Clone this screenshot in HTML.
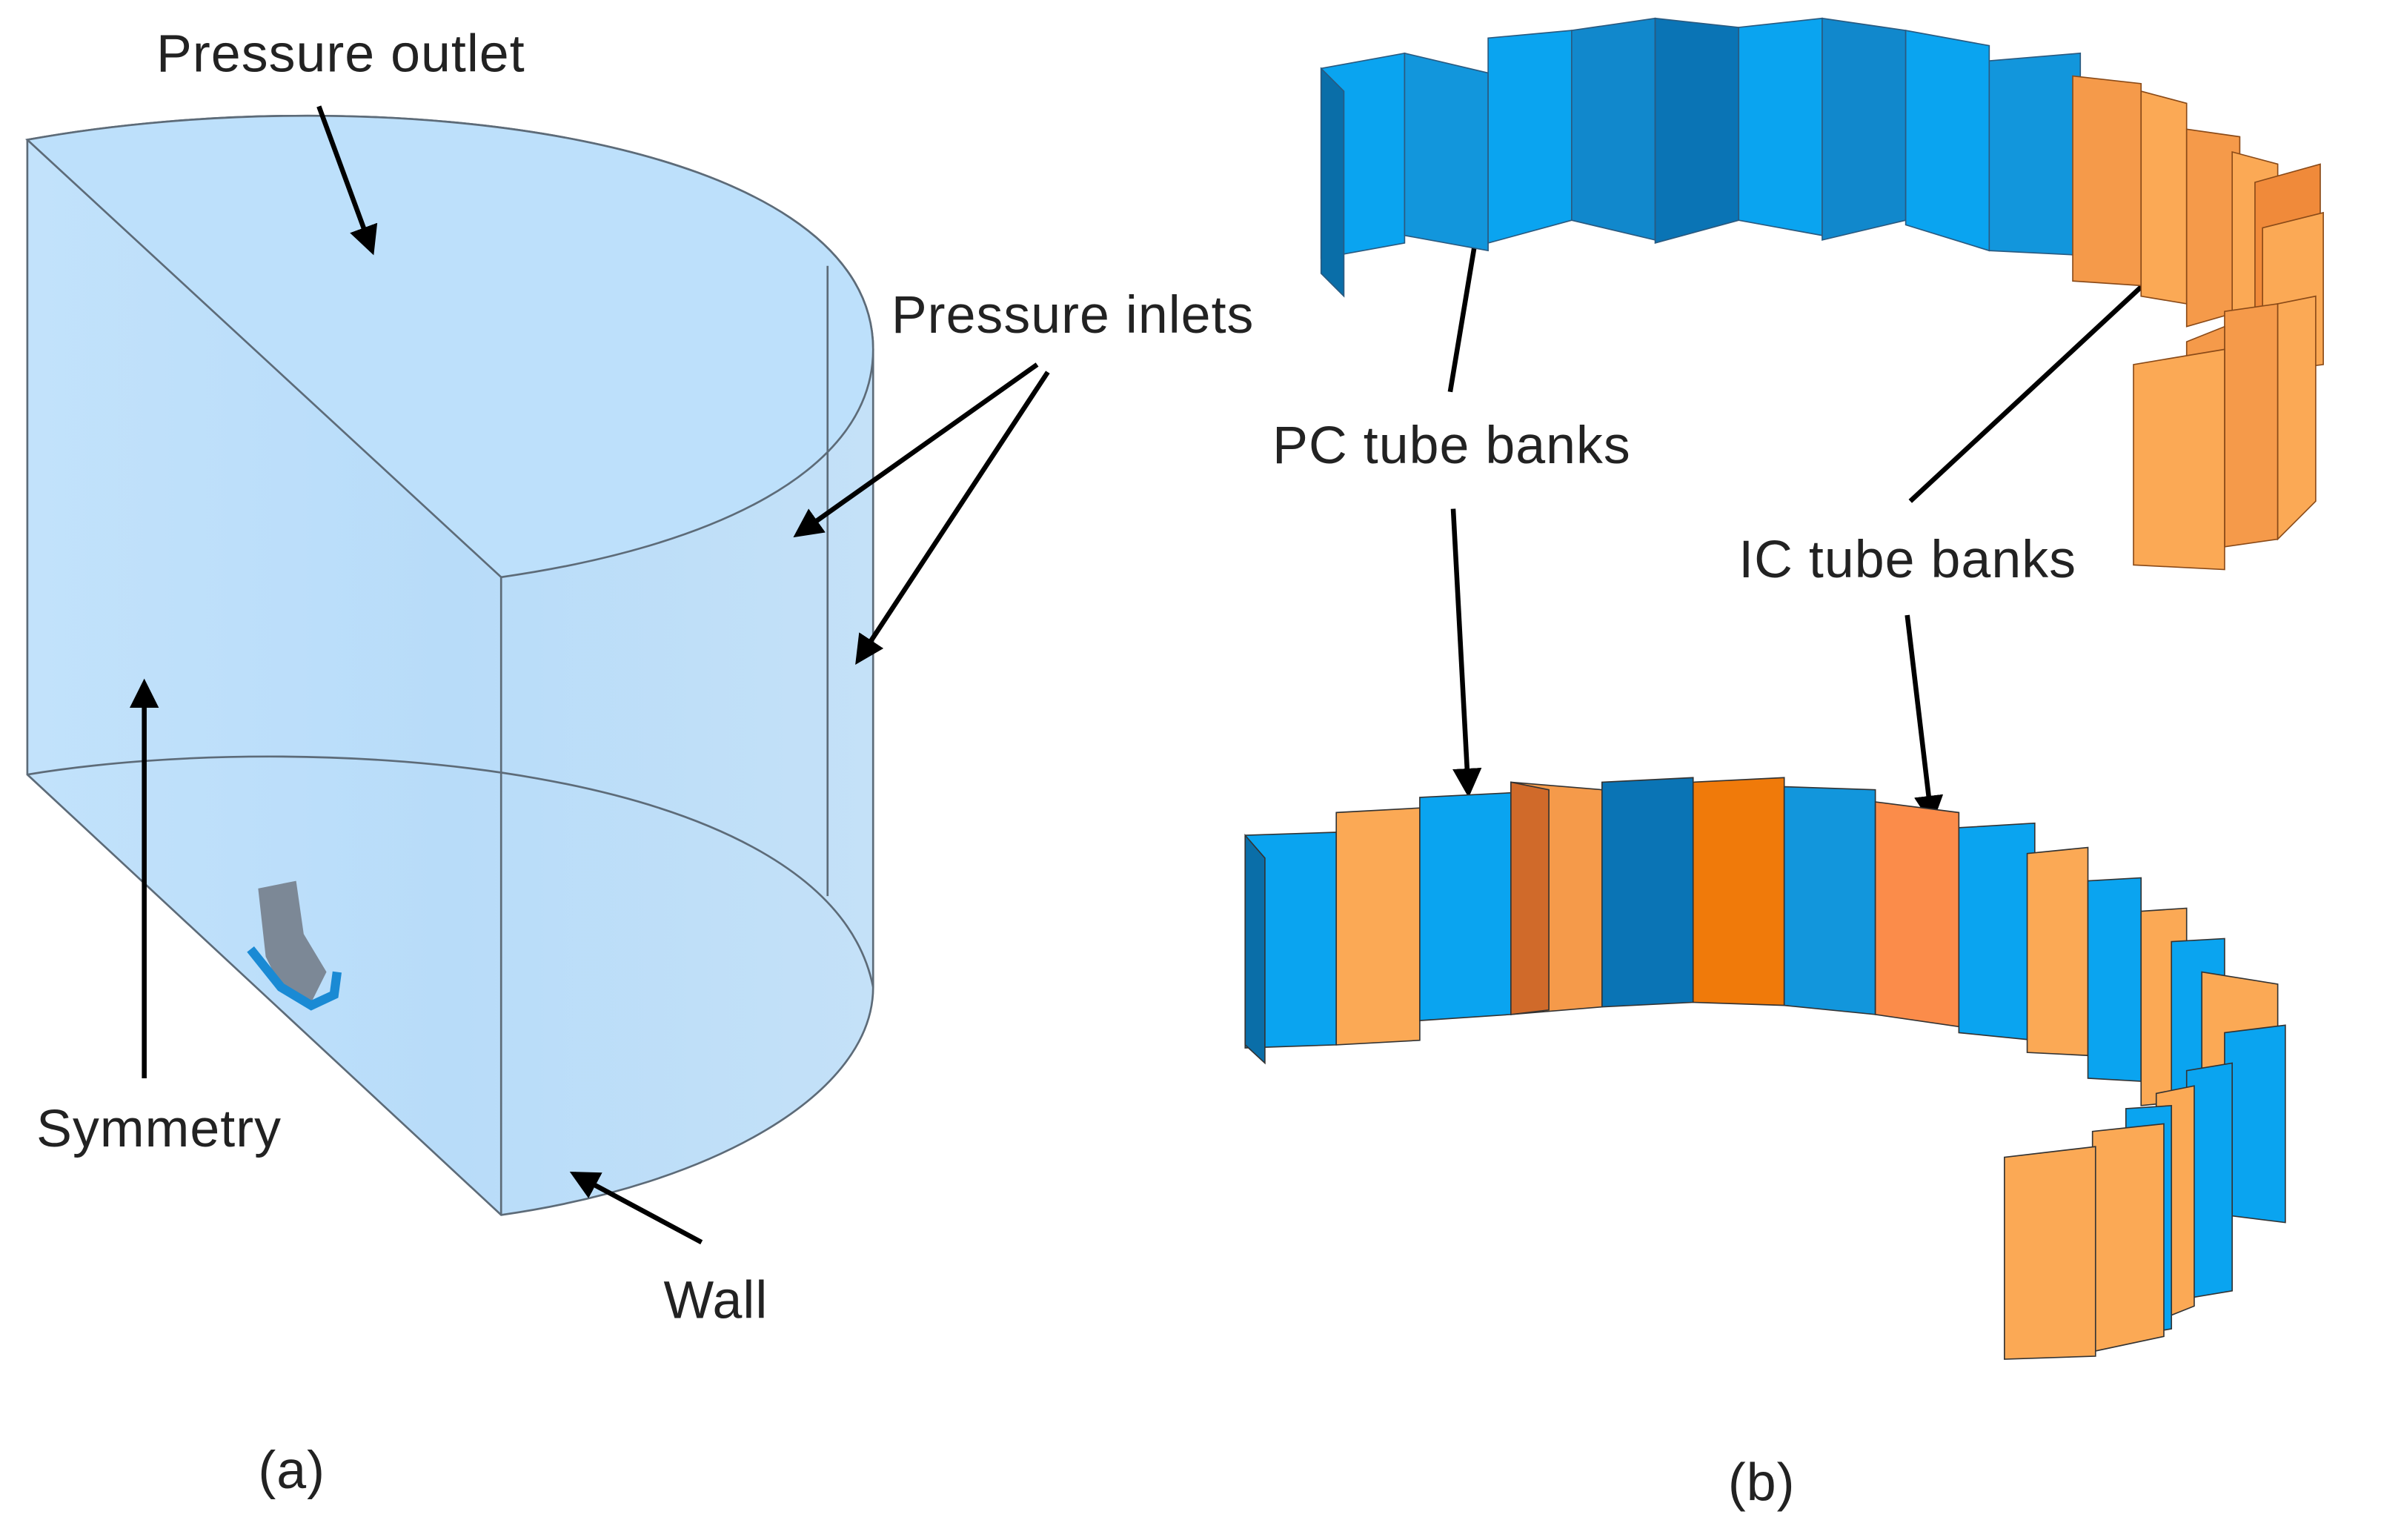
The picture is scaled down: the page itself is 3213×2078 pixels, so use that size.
<!DOCTYPE html>
<html><head><meta charset="utf-8"><style>
html,body{margin:0;padding:0;background:#fff;}
svg{display:block;}
text{font-family:"Liberation Sans",sans-serif;fill:#222;}
</style></head><body>
<svg width="3213" height="2078" viewBox="0 0 1568 1014" xmlns="http://www.w3.org/2000/svg">
<defs>
<marker id="ah" markerWidth="6" markerHeight="6" refX="5" refY="3" orient="auto" markerUnits="strokeWidth">
<path d="M0,0 L6,3 L0,6 z" fill="#000"/></marker>
<linearGradient id="cyl" x1="0" x2="1"><stop offset="0" stop-color="#c2e2fb"/><stop offset="0.5" stop-color="#b8dcf9"/><stop offset="1" stop-color="#c4e1f8"/></linearGradient>
</defs>
<rect width="1568" height="1014" fill="#fff"/>
<g stroke="#5d6b78" stroke-width="1.3" fill="url(#cyl)">
<path d="M18,92 C250,50 575,90 575,230 L575,650 C575,720 470,780 330,800 L18,510 Z"/>
<path d="M18,92 L330,380 C470,360 575,310 575,230 C575,90 250,50 18,92 Z" fill="#bde0fb"/>
<line x1="330" y1="380" x2="330" y2="800"/>
<line x1="545" y1="175" x2="545" y2="590"/>
<path d="M18,510 C200,480 545,500 575,650" fill="none"/>
</g>
<path d="M170,585 L195,580 L200,615 L215,640 L205,660 L185,650 L175,630 Z" fill="#7c8896"/>
<path d="M165,625 L185,650 L205,662 L220,655 L222,640" stroke="#1a8ad4" stroke-width="6" fill="none"/>
<g font-size="35" letter-spacing="0.5">
<text x="103" y="47">Pressure outlet</text>
<text x="587" y="219">Pressure inlets</text>
<text x="24" y="755">Symmetry</text>
<text x="437" y="868">Wall</text>
<text x="170" y="980">(a)</text>
<text x="838" y="305">PC tube banks</text>
<text x="1145" y="380">IC tube banks</text>
<text x="1138" y="988">(b)</text>
</g>
<g stroke="#000" stroke-width="3.2" fill="none" marker-end="url(#ah)">
<line x1="210" y1="70" x2="245" y2="165"/>
<line x1="683" y1="240" x2="525" y2="352"/>
<line x1="690" y1="245" x2="565" y2="435"/>
<line x1="95" y1="710" x2="95" y2="450"/>
<line x1="462" y1="818" x2="378" y2="773"/>
<line x1="955" y1="258" x2="978" y2="120"/>
<line x1="957" y1="335" x2="967" y2="522"/>
<line x1="1258" y1="330" x2="1425" y2="175"/>
<line x1="1256" y1="405" x2="1272" y2="540"/>
</g>
<g stroke="#2a5a80" stroke-width="0.8">
<polygon points="870,45 925,35 925,160 870,170" fill="#0aa4f0"/>
<polygon points="870,45 885,60 885,195 870,180" fill="#0a6ea8"/>
<polygon points="925,35 980,48 980,165 925,155" fill="#1296dc"/>
<polygon points="980,25 1035,20 1035,145 980,160" fill="#0aa4f0"/>
<polygon points="1035,20 1090,12 1090,158 1035,145" fill="#1188cc"/>
<polygon points="1090,12 1145,18 1145,145 1090,160" fill="#0a74b5"/>
<polygon points="1145,18 1200,12 1200,155 1145,145" fill="#0aa4f0"/>
<polygon points="1200,12 1255,20 1255,145 1200,158" fill="#1188cc"/>
<polygon points="1255,20 1310,30 1310,165 1255,148" fill="#0aa4f0"/>
<polygon points="1310,40 1370,35 1370,168 1310,165" fill="#1296dc"/>
</g>
<g stroke="#8a4a18" stroke-width="0.8">
<polygon points="1365,50 1410,55 1410,188 1365,185" fill="#f59a4a"/>
<polygon points="1410,60 1440,68 1440,200 1410,195" fill="#fba955"/>
<polygon points="1440,85 1475,90 1475,205 1440,215" fill="#f59a4a"/>
<polygon points="1470,100 1500,108 1500,210 1470,215" fill="#fba955"/>
<polygon points="1485,120 1528,108 1528,210 1485,215" fill="#f08a3a"/>
<polygon points="1490,150 1530,140 1530,240 1490,245" fill="#fba955"/>
<polygon points="1465,205 1500,200 1500,355 1465,360" fill="#f59a4a"/>
<polygon points="1500,200 1525,195 1525,330 1500,355" fill="#fba955"/>
<polygon points="1440,225 1465,215 1465,360 1440,370" fill="#f59a4a"/>
<polygon points="1405,240 1465,230 1465,375 1405,372" fill="#fba955"/>
</g>
<g stroke="#333" stroke-width="0.8">
<polygon points="820,550 880,548 880,688 820,690" fill="#0aa4f0"/>
<polygon points="820,550 833,565 833,700 820,688" fill="#0a6ea8"/>
<polygon points="880,535 935,532 935,685 880,688" fill="#fba955"/>
<polygon points="935,525 995,522 995,668 935,672" fill="#0aa4f0"/>
<polygon points="995,515 1055,520 1055,663 995,668" fill="#f59a4a"/>
<polygon points="995,515 1020,520 1020,665 995,668" fill="#d06a2a"/>
<polygon points="1055,515 1115,512 1115,660 1055,663" fill="#0a74b5"/>
<polygon points="1115,515 1175,512 1175,662 1115,660" fill="#f07a0a"/>
<polygon points="1175,518 1235,520 1235,668 1175,662" fill="#1296dc"/>
<polygon points="1235,528 1290,535 1290,676 1235,668" fill="#fb8c4a"/>
<polygon points="1290,545 1340,542 1340,685 1290,680" fill="#0aa4f0"/>
<polygon points="1335,562 1375,558 1375,695 1335,693" fill="#fba955"/>
<polygon points="1375,580 1410,578 1410,712 1375,710" fill="#0aa4f0"/>
<polygon points="1410,600 1440,598 1440,725 1410,728" fill="#fba955"/>
<polygon points="1430,620 1465,618 1465,745 1430,750" fill="#0aa4f0"/>
<polygon points="1450,640 1500,648 1500,760 1450,770" fill="#fba955"/>
<polygon points="1465,680 1505,675 1505,805 1465,800" fill="#0aa4f0"/>
<polygon points="1440,705 1470,700 1470,850 1440,855" fill="#0aa4f0"/>
<polygon points="1420,720 1445,715 1445,860 1420,870" fill="#fba955"/>
<polygon points="1400,730 1430,728 1430,875 1400,880" fill="#0aa4f0"/>
<polygon points="1378,745 1425,740 1425,880 1378,890" fill="#fba955"/>
<polygon points="1320,762 1380,755 1380,893 1320,895" fill="#fba955"/>
</g>
</svg>
</body></html>
